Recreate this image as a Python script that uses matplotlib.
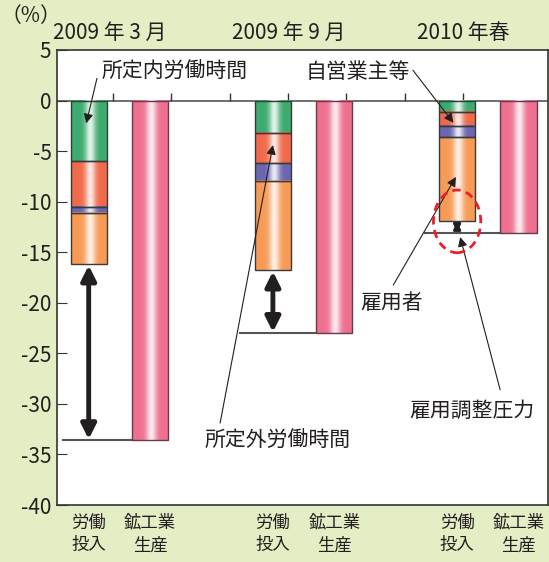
import numpy as np
import matplotlib.pyplot as plt
from matplotlib.colors import to_rgb
from matplotlib.patches import Ellipse

plt.rcParams['font.family'] = ['Noto Sans CJK JP', 'DejaVu Sans']
plt.rcParams['axes.unicode_minus'] = False

periods = ['2009 年 3 月', '2009 年 9 月', '2010 年春']
labor_pos = [0, 3, 6]
prod_pos = [1, 4, 7]
labor_label = '労働\n投入'
prod_label = '鉱工業\n生産'

# labor input breakdown (%pt), stacked downward from 0
scheduled_hours = [-6.0, -3.2, -1.1]     # 所定内労働時間
overtime_hours = [-4.5, -3.0, -1.45]     # 所定外労働時間
self_employed = [-0.65, -1.75, -1.1]     # 自営業主等
employees = [-5.05, -8.85, -8.25]        # 雇用者
production = [-33.6, -23.0, -13.1]       # 鉱工業生産

ink = '#231f20'
bg = '#e4eec4'
width = 0.59


def shade(ax, patch, color):
    x0, y0 = patch.get_x(), patch.get_y()
    w, h = patch.get_width(), patch.get_height()
    t = np.linspace(-1, 1, 200)
    glow = np.exp(-((t - 0.05) / 0.28) ** 2) * 0.85
    base = np.array(to_rgb(color))
    rgb = base[None, :] * (1 - glow[:, None]) + glow[:, None]
    ax.imshow(rgb[None, :, :], extent=[x0, x0 + w, y0 + h, y0],
              aspect='auto', zorder=2, interpolation='bilinear')


fig = plt.figure(figsize=(5.49, 5.62), dpi=100, facecolor=bg)
ax = fig.add_axes([57 / 549, 1 - 505 / 562, 491 / 549, 455 / 562])
ax.set_facecolor('white')

layers = [(scheduled_hours, '#3daa6e'), (overtime_hours, '#f0694a'),
          (self_employed, '#6a66b0'), (employees, '#f79a55')]
bottom = np.zeros(3)
for vals, col in layers:
    bars = ax.bar(labor_pos, vals, width, bottom=bottom, facecolor='none',
                  edgecolor='#3a3a3a', lw=1.0, zorder=3)
    for p in bars:
        shade(ax, p, col)
    bottom = bottom + np.array(vals)
labor_total = bottom

bars = ax.bar(prod_pos, production, width, facecolor='none',
              edgecolor='#6a3a48', lw=1.0, zorder=3)
for p in bars:
    shade(ax, p, '#ee7090')

# reference lines at production level and gap arrows
for lp, pp, tot, prod, off in zip(labor_pos, prod_pos, labor_total,
                                  production, [0.42, 0.54, 0.52]):
    ax.plot([lp - off, pp - width / 2], [prod, prod], color='#555555',
            lw=1.5, zorder=2)
    big = (tot - prod) > 3
    ax.annotate('', xy=(lp, prod + 0.1), xytext=(lp, tot - 0.1),
                arrowprops=dict(arrowstyle='<|-|>', color=ink,
                                lw=3.5 if big else 2,
                                mutation_scale=22 if big else 10,
                                shrinkA=0, shrinkB=0), zorder=4)

ax.axhline(0, color='#555555', lw=1.2, zorder=1)
tick_x = [0.396 + 0.95 * k for k in range(7)]
ax.vlines(tick_x, 0, 0.7, color='#333333', lw=1.0, zorder=1)

ax.add_patch(Ellipse((6.0, -11.95), 0.77, 6.2, fill=False,
                     edgecolor='#e8202a', ls=(0, (3, 2)), lw=2, zorder=5))

arrow = dict(arrowstyle='-|>', color=ink, lw=0.8, mutation_scale=14,
             shrinkA=0, shrinkB=0)
fs = 15
ax.text(0.217, 2.83, '所定内労働時間', fontsize=fs, color=ink,
        va='center', ha='left')
ax.annotate('', xy=(-0.04, -2.25), xytext=(0.135, 2.2), arrowprops=arrow)
ax.text(5.24, 2.83, '自営業主等', fontsize=fs, color=ink,
        va='center', ha='right')
ax.annotate('', xy=(5.94, -2.2), xytext=(5.28, 3.0), arrowprops=arrow)
ax.text(1.89, -33.7, '所定外労働時間', fontsize=fs, color=ink,
        va='center', ha='left')
ax.annotate('', xy=(3.0, -4.4), xytext=(2.14, -31.9), arrowprops=arrow)
ax.text(4.42, -20.0, '雇用者', fontsize=fs, color=ink,
        va='center', ha='left')
ax.annotate('', xy=(5.98, -7.55), xytext=(4.96, -18.25), arrowprops=arrow)
ax.text(5.22, -30.7, '雇用調整圧力', fontsize=fs, color=ink,
        va='center', ha='left')
ax.annotate('', xy=(6.05, -13.5), xytext=(6.7, -28.6), arrowprops=arrow)

for x, name in zip([0.35, 3.25, 6.1], periods):
    ax.text(x, 6.69, name, fontsize=fs, color=ink, ha='center',
            va='center', clip_on=False)
fig.text(31 / 549, 1 - 16 / 562, '（%）', fontsize=15, color=ink,
         ha='center', va='center')

ax.set_xlim(-0.516, 7.48)
ax.set_ylim(-40, 5)
ax.set_yticks(range(-40, 6, 5))
ax.tick_params(axis='y', direction='in', length=7, labelsize=15,
               labelcolor=ink, color='#333333', pad=4)
ax.set_xticks(labor_pos + prod_pos,
              [labor_label] * 3 + [prod_label] * 3)
ax.tick_params(axis='x', length=0, labelsize=12.5, labelcolor=ink, pad=6)
for lab in ax.get_xticklabels():
    lab.set_linespacing(1.35)
for s in ax.spines.values():
    s.set_color('#333333')
    s.set_linewidth(1.2)

fig.savefig('out.png', dpi=100, facecolor=bg)
